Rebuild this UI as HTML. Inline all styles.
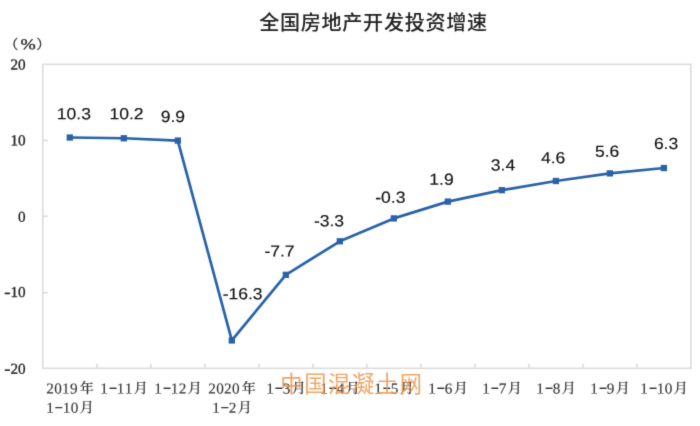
<!DOCTYPE html>
<html lang="zh-CN">
<head>
<meta charset="utf-8">
<title>全国房地产开发投资增速</title>
<style>
html,body{margin:0;padding:0;background:#fff;}
body{width:700px;height:426px;overflow:hidden;position:relative;}
svg{position:absolute;left:0;top:0;display:block;}
.title{font-family:"Liberation Sans","Noto Sans CJK SC",sans-serif;font-size:20.1px;font-weight:500;fill:#222;letter-spacing:0.7px;}
.yl{font-family:"Liberation Serif","Noto Serif CJK SC",serif;font-size:15.2px;fill:#222;stroke:#222;stroke-width:0.3;}
.xl{font-family:"Liberation Serif","Noto Serif CJK SC",serif;font-size:15.2px;fill:#333;stroke:#333;stroke-width:0.12;}
.yl .p{font-size:13.2px;}
.xl .c{font-size:14.1px;font-weight:500;}
.dl{font-family:"Liberation Sans","Noto Sans CJK SC",sans-serif;font-size:16.0px;fill:#111;stroke:#111;stroke-width:0.15;}
.wm{font-family:"Liberation Sans","Noto Sans CJK SC",sans-serif;font-size:22.3px;font-weight:400;fill:#ee9a50;fill-opacity:0.88;}
.ax{stroke:#dbdbdb;stroke-width:1.55;fill:none;}
</style>
</head>
<body>
<svg width="700" height="426" viewBox="0 0 700 426">
<defs><filter id="soft" x="0" y="0" width="700" height="426" filterUnits="userSpaceOnUse" color-interpolation-filters="sRGB"><feConvolveMatrix order="3" kernelMatrix="0.0143 0.0910 0.0143 0.0910 0.5785 0.0910 0.0143 0.0910 0.0143" divisor="1" edgeMode="duplicate" preserveAlpha="true"/></filter></defs>
<g filter="url(#soft)">
<rect x="0" y="0" width="700" height="426" fill="#ffffff"/>
<text class="title" transform="translate(373.5 30.0) rotate(0.02)" text-anchor="middle">全国房地产开发投资增速</text>
<rect class="ax" x="42.8" y="64.3" width="648.1" height="304.0"/>
<line class="ax" x1="42.8" y1="140.40" x2="47.8" y2="140.40"/>
<line class="ax" x1="42.8" y1="216.20" x2="47.8" y2="216.20"/>
<line class="ax" x1="42.8" y1="292.70" x2="47.8" y2="292.70"/>
<line class="ax" x1="96.81" y1="368.3" x2="96.81" y2="363.7"/>
<line class="ax" x1="150.82" y1="368.3" x2="150.82" y2="363.7"/>
<line class="ax" x1="204.82" y1="368.3" x2="204.82" y2="363.7"/>
<line class="ax" x1="258.83" y1="368.3" x2="258.83" y2="363.7"/>
<line class="ax" x1="312.84" y1="368.3" x2="312.84" y2="363.7"/>
<line class="ax" x1="366.85" y1="368.3" x2="366.85" y2="363.7"/>
<line class="ax" x1="420.86" y1="368.3" x2="420.86" y2="363.7"/>
<line class="ax" x1="474.87" y1="368.3" x2="474.87" y2="363.7"/>
<line class="ax" x1="528.88" y1="368.3" x2="528.88" y2="363.7"/>
<line class="ax" x1="582.88" y1="368.3" x2="582.88" y2="363.7"/>
<line class="ax" x1="636.89" y1="368.3" x2="636.89" y2="363.7"/>
<text class="yl" transform="translate(0 49.2) rotate(0.03)"><tspan class="p" x="4.9" dy="-0.3">（</tspan><tspan x="20.4" dy="0.3" textLength="15.2" lengthAdjust="spacingAndGlyphs">%</tspan><tspan class="p" x="36.5" dy="-0.3">）</tspan></text>
<text class="yl" transform="translate(25.7 69.40) rotate(0.03)" text-anchor="end">20</text>
<text class="yl" transform="translate(25.7 145.30) rotate(0.03)" text-anchor="end">10</text>
<text class="yl" transform="translate(25.7 221.80) rotate(0.03)" text-anchor="end">0</text>
<text class="yl" transform="translate(25.7 297.10) rotate(0.03)" text-anchor="end"><tspan textLength="6.2" lengthAdjust="spacingAndGlyphs">-</tspan>10</text>
<text class="yl" transform="translate(25.7 373.80) rotate(0.03)" text-anchor="end"><tspan textLength="6.2" lengthAdjust="spacingAndGlyphs">-</tspan>20</text>
<text class="xl" transform="translate(69.80 393.50) rotate(0.03)"><tspan x="-23.55 -15.65 -7.75 0.15">2019</tspan><tspan class="c" x="9.90" dy="-0.5">年</tspan></text>
<text class="xl" transform="translate(69.80 412.80) rotate(0.03)"><tspan x="-23.55">1</tspan><tspan x="-15.20" dy="-1.5" textLength="8.6" lengthAdjust="spacingAndGlyphs">-</tspan><tspan x="-7.05 0.85" dy="1.5">10</tspan><tspan class="c" x="9.90" dy="-0.5">月</tspan></text>
<text class="xl" transform="translate(123.81 393.50) rotate(0.03)"><tspan x="-23.55">1</tspan><tspan x="-15.20" dy="-1.5" textLength="8.6" lengthAdjust="spacingAndGlyphs">-</tspan><tspan x="-7.05 0.85" dy="1.5">11</tspan><tspan class="c" x="9.90" dy="-0.5">月</tspan></text>
<text class="xl" transform="translate(177.82 393.50) rotate(0.03)"><tspan x="-23.55">1</tspan><tspan x="-15.20" dy="-1.5" textLength="8.6" lengthAdjust="spacingAndGlyphs">-</tspan><tspan x="-7.05 0.85" dy="1.5">12</tspan><tspan class="c" x="9.90" dy="-0.5">月</tspan></text>
<text class="xl" transform="translate(231.83 393.50) rotate(0.03)"><tspan x="-23.55 -15.65 -7.75 0.15">2020</tspan><tspan class="c" x="9.90" dy="-0.5">年</tspan></text>
<text class="xl" transform="translate(231.83 412.80) rotate(0.03)"><tspan x="-19.60">1</tspan><tspan x="-11.25" dy="-1.5" textLength="8.6" lengthAdjust="spacingAndGlyphs">-</tspan><tspan x="-3.10" dy="1.5">2</tspan><tspan class="c" x="5.95" dy="-0.5">月</tspan></text>
<text class="xl" transform="translate(285.84 393.50) rotate(0.03)"><tspan x="-19.60">1</tspan><tspan x="-11.25" dy="-1.5" textLength="8.6" lengthAdjust="spacingAndGlyphs">-</tspan><tspan x="-3.10" dy="1.5">3</tspan><tspan class="c" x="5.95" dy="-0.5">月</tspan></text>
<text class="xl" transform="translate(339.85 393.50) rotate(0.03)"><tspan x="-19.60">1</tspan><tspan x="-11.25" dy="-1.5" textLength="8.6" lengthAdjust="spacingAndGlyphs">-</tspan><tspan x="-3.10" dy="1.5">4</tspan><tspan class="c" x="5.95" dy="-0.5">月</tspan></text>
<text class="xl" transform="translate(393.85 393.50) rotate(0.03)"><tspan x="-19.60">1</tspan><tspan x="-11.25" dy="-1.5" textLength="8.6" lengthAdjust="spacingAndGlyphs">-</tspan><tspan x="-3.10" dy="1.5">5</tspan><tspan class="c" x="5.95" dy="-0.5">月</tspan></text>
<text class="xl" transform="translate(447.86 393.50) rotate(0.03)"><tspan x="-19.60">1</tspan><tspan x="-11.25" dy="-1.5" textLength="8.6" lengthAdjust="spacingAndGlyphs">-</tspan><tspan x="-3.10" dy="1.5">6</tspan><tspan class="c" x="5.95" dy="-0.5">月</tspan></text>
<text class="xl" transform="translate(501.87 393.50) rotate(0.03)"><tspan x="-19.60">1</tspan><tspan x="-11.25" dy="-1.5" textLength="8.6" lengthAdjust="spacingAndGlyphs">-</tspan><tspan x="-3.10" dy="1.5">7</tspan><tspan class="c" x="5.95" dy="-0.5">月</tspan></text>
<text class="xl" transform="translate(555.88 393.50) rotate(0.03)"><tspan x="-19.60">1</tspan><tspan x="-11.25" dy="-1.5" textLength="8.6" lengthAdjust="spacingAndGlyphs">-</tspan><tspan x="-3.10" dy="1.5">8</tspan><tspan class="c" x="5.95" dy="-0.5">月</tspan></text>
<text class="xl" transform="translate(609.89 393.50) rotate(0.03)"><tspan x="-19.60">1</tspan><tspan x="-11.25" dy="-1.5" textLength="8.6" lengthAdjust="spacingAndGlyphs">-</tspan><tspan x="-3.10" dy="1.5">9</tspan><tspan class="c" x="5.95" dy="-0.5">月</tspan></text>
<text class="xl" transform="translate(663.90 393.50) rotate(0.03)"><tspan x="-23.55">1</tspan><tspan x="-15.20" dy="-1.5" textLength="8.6" lengthAdjust="spacingAndGlyphs">-</tspan><tspan x="-7.05 0.85" dy="1.5">10</tspan><tspan class="c" x="9.90" dy="-0.5">月</tspan></text>
<polyline points="69.80,137.51 123.81,138.27 177.82,140.56 231.83,340.47 285.84,274.85 339.85,241.28 393.85,218.39 447.86,201.60 501.87,190.16 555.88,181.00 609.89,173.37 663.90,168.03" fill="none" stroke="#2962a9" stroke-width="2.7" stroke-linejoin="round" stroke-linecap="round"/>
<rect x="66.65" y="134.36" width="6.3" height="6.3" fill="#2962a9"/>
<rect x="120.66" y="135.12" width="6.3" height="6.3" fill="#2962a9"/>
<rect x="174.67" y="137.41" width="6.3" height="6.3" fill="#2962a9"/>
<rect x="228.68" y="337.32" width="6.3" height="6.3" fill="#2962a9"/>
<rect x="282.69" y="271.70" width="6.3" height="6.3" fill="#2962a9"/>
<rect x="336.70" y="238.13" width="6.3" height="6.3" fill="#2962a9"/>
<rect x="390.70" y="215.24" width="6.3" height="6.3" fill="#2962a9"/>
<rect x="444.71" y="198.45" width="6.3" height="6.3" fill="#2962a9"/>
<rect x="498.72" y="187.01" width="6.3" height="6.3" fill="#2962a9"/>
<rect x="552.73" y="177.85" width="6.3" height="6.3" fill="#2962a9"/>
<rect x="606.74" y="170.22" width="6.3" height="6.3" fill="#2962a9"/>
<rect x="660.75" y="164.88" width="6.3" height="6.3" fill="#2962a9"/>
<text class="dl" transform="translate(73.88 119.20) rotate(0.03) scale(1.095 1)" text-anchor="middle">10.3</text>
<text class="dl" transform="translate(126.54 119.37) rotate(0.03) scale(1.095 1)" text-anchor="middle">10.2</text>
<text class="dl" transform="translate(172.92 122.01) rotate(0.03) scale(1.095 1)" text-anchor="middle">9.9</text>
<text class="dl" transform="translate(242.61 299.17) rotate(0.03) scale(1.095 1)" text-anchor="middle">-16.3</text>
<text class="dl" transform="translate(279.47 256.54) rotate(0.03) scale(1.095 1)" text-anchor="middle">-7.7</text>
<text class="dl" transform="translate(328.98 226.28) rotate(0.03) scale(1.095 1)" text-anchor="middle">-3.3</text>
<text class="dl" transform="translate(390.28 202.76) rotate(0.03) scale(1.095 1)" text-anchor="middle">-0.3</text>
<text class="dl" transform="translate(441.48 184.81) rotate(0.03) scale(1.095 1)" text-anchor="middle">1.9</text>
<text class="dl" transform="translate(503.00 170.45) rotate(0.03) scale(1.095 1)" text-anchor="middle">3.4</text>
<text class="dl" transform="translate(553.09 163.37) rotate(0.03) scale(1.095 1)" text-anchor="middle">4.6</text>
<text class="dl" transform="translate(607.16 156.67) rotate(0.03) scale(1.095 1)" text-anchor="middle">5.6</text>
<text class="dl" transform="translate(666.05 149.12) rotate(0.03) scale(1.095 1)" text-anchor="middle">6.3</text>
<text class="wm" x="280.3 304.2 328.1 352.0 375.9 399.8" y="392.0">中国混凝土网</text>
</g>
</svg>
</body>
</html>
